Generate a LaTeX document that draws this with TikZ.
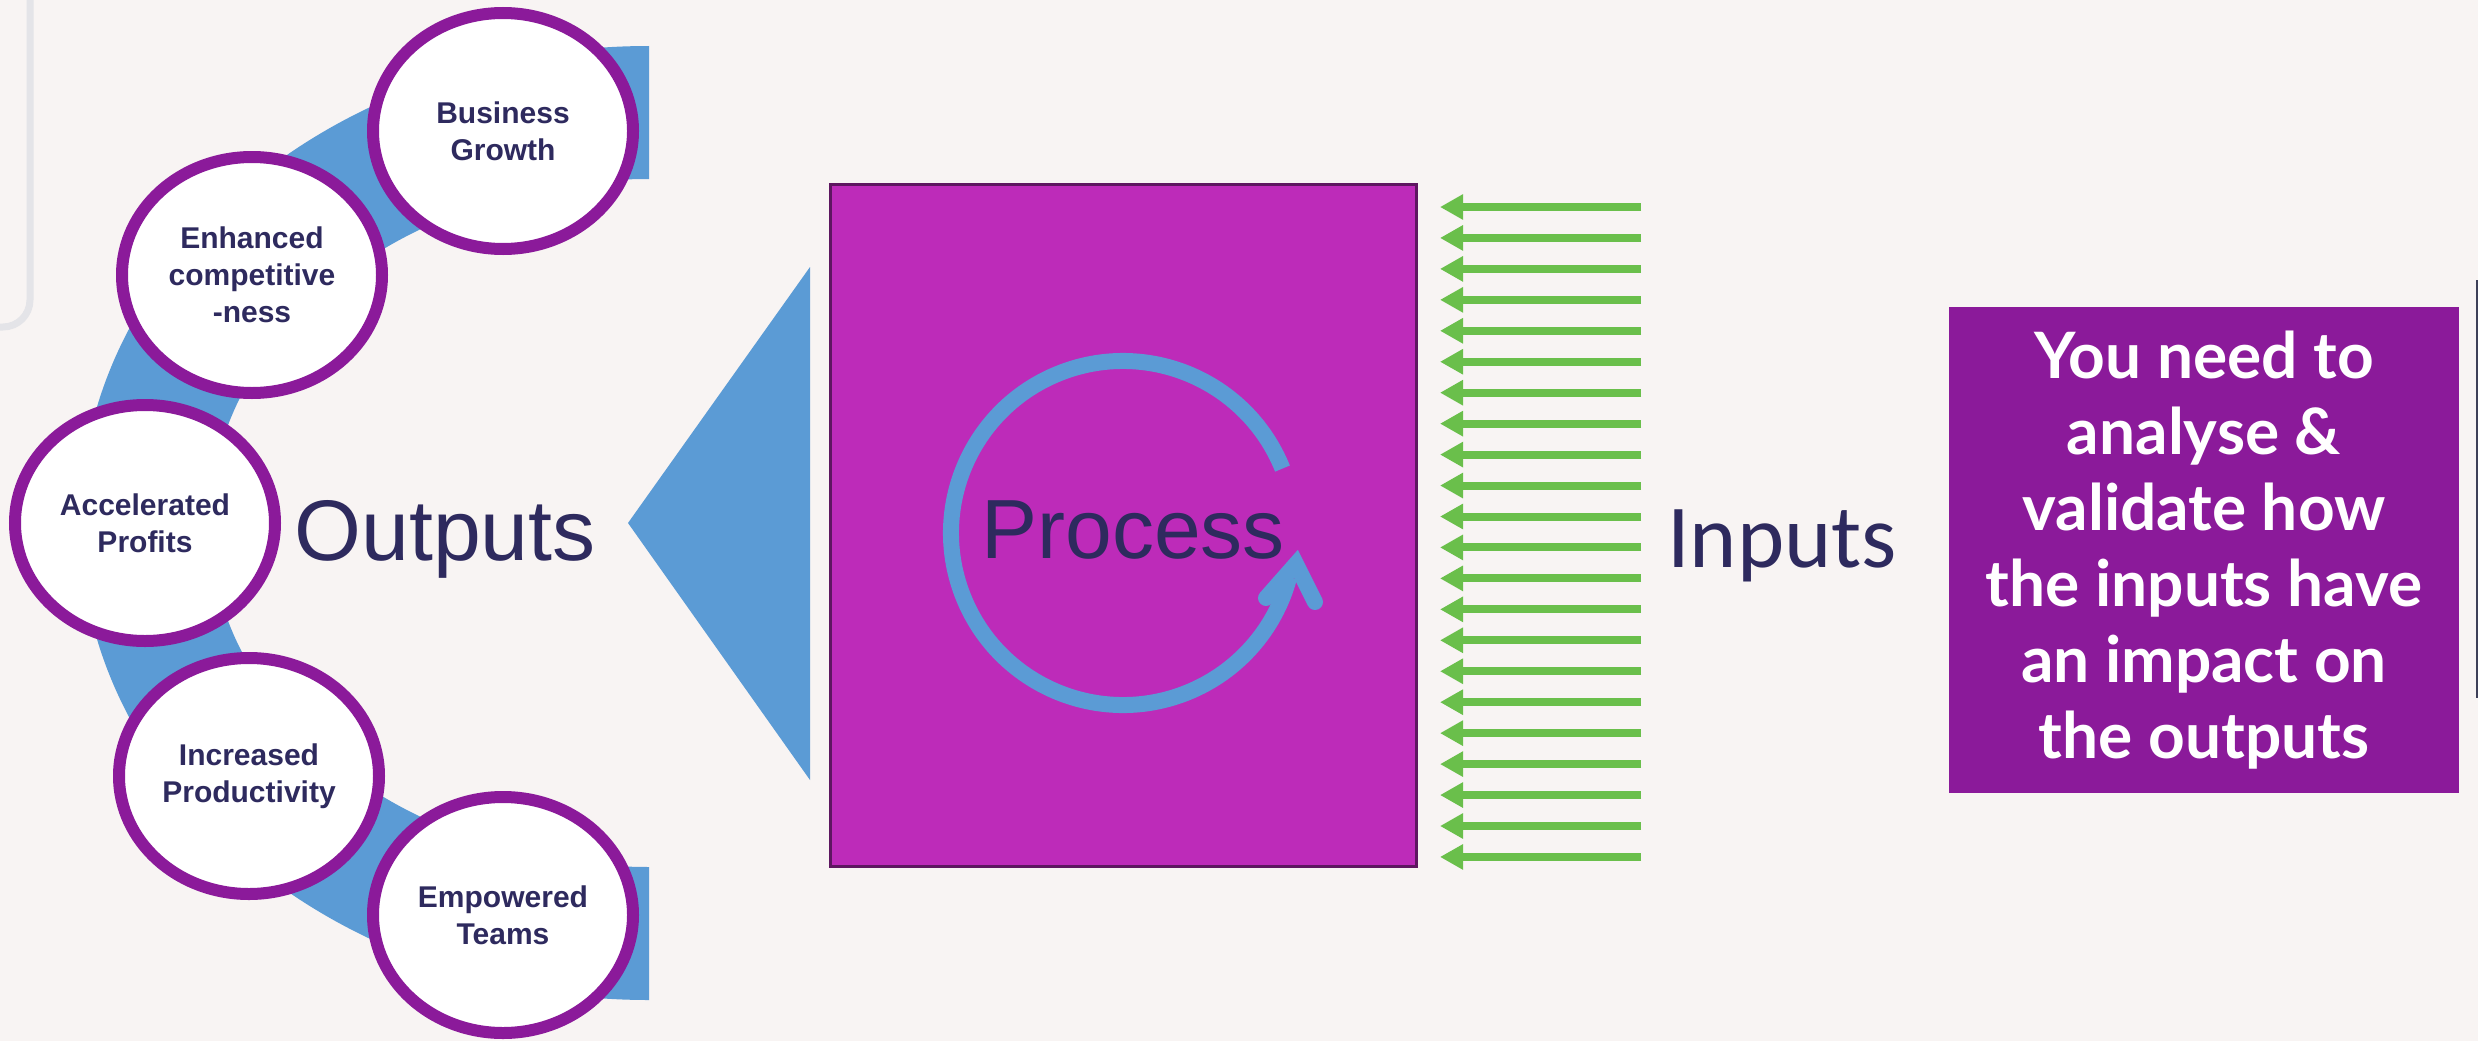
\documentclass[tikz,border=0pt]{standalone}
\usepackage{fontspec}
\setmainfont{Liberation Sans}
\newfontfamily\carlitofont{Carlito}
\newfontfamily\latofont{Lato}
\usetikzlibrary{shapes.geometric,arrows.meta}
\definecolor{bgc}{HTML}{F8F4F3}
\definecolor{cblue}{HTML}{5B9BD5}
\definecolor{cpurple}{HTML}{8B1A9A}
\definecolor{cproc}{HTML}{BD2BB9}
\definecolor{cborder}{HTML}{5E1660}
\definecolor{navy}{HTML}{2E2A5E}
\definecolor{cgreen}{HTML}{6ABF4B}
\definecolor{cgrey}{HTML}{E4E4E8}
\definecolor{cedge}{HTML}{3E4058}
\begin{document}
\begin{tikzpicture}[x=1pt,y=1pt,
  outcircle/.style={ellipse, draw=cpurple, line width=12pt, fill=white,
    minimum width=260pt, minimum height=236pt, inner sep=0pt, align=center,
    text=navy, font=\fontsize{30}{37}\selectfont\bfseries},
  inarrow/.style={draw=cgreen, line width=8pt, -{Triangle[length=23pt,width=24pt]}},
  bigword/.style={anchor=base, inner sep=0pt, text=navy},
]
\fill[bgc] (0,0) rectangle (2478,-1041);
\useasboundingbox (0,0) rectangle (2478,-1041);
% grey frame corner
\draw[cgrey, line width=7pt] (30,2) -- (30,-300) arc[start angle=0,end angle=-90,radius=27] -- (-2,-327);
% dark frame edge at right
\draw[cedge, line width=2pt] (2477,-280) -- (2477,-698);
% blue band
\fill[cblue] (649,-46) arc[start angle=90,end angle=270,x radius=569,y radius=477]
  -- (649,-867) arc[start angle=270,end angle=90,x radius=439,y radius=344] -- cycle;
% output circles
\node[outcircle] (bg) at (503,-131) {Business\\Growth};
\node[outcircle] (ec) at (252,-275) {Enhanced\\competitive\\-ness};
\node[outcircle] (ap) at (145,-523) {Accelerated\\Profits};
\node[outcircle] (ip) at (249,-776) {Increased\\Productivity};
\node[outcircle] (et) at (503,-915) {Empowered\\Teams};
% outputs label and triangle
\node[bigword, font=\fontsize{86}{86}\selectfont] (outl) at (445,-560) {Outputs};
\fill[cblue] (628,-523) -- (810,-267) -- (810,-780) -- cycle;
% process box
\node[draw=cborder, fill=cproc, line width=3pt, minimum width=586pt, minimum height=682pt, inner sep=0pt] (proc) at (1123.5,-525.5) {};
\draw[cblue, line width=16pt] (1123,-533) ++(22:172) arc[start angle=22, end angle=345, radius=172];
\draw[cblue, line width=16pt, line cap=round, line join=miter] (1266,-598) -- (1296,-564) -- (1315,-602);
\node[bigword, font=\fontsize{84}{84}\selectfont] (proct) at (1133,-558) {Process};
% input arrows
\foreach \i in {0,...,21} {
  \pgfmathsetmacro\yy{-207-30.95*\i}
  \coordinate (is\i) at (1641,\yy);
  \coordinate (ie\i) at (1440,\yy);
  \draw[inarrow] (is\i) -- (ie\i);
}
\node[anchor=base west, inner sep=0pt, text=navy, font=\carlitofont\fontsize{90}{90}\selectfont] (inl) at (1667,-567) {Inputs};
% note box
\node[fill=cpurple, minimum width=510pt, minimum height=486pt, inner sep=0pt] (note) at (2204,-550) {};
\node[text=white, align=center, inner sep=0pt, font=\latofont\bfseries\fontsize{64}{76}\selectfont] (notet) at (note.center) {You need to\\analyse \&\\validate how\\the inputs have\\an impact on\\the outputs};
\end{tikzpicture}
\end{document}
